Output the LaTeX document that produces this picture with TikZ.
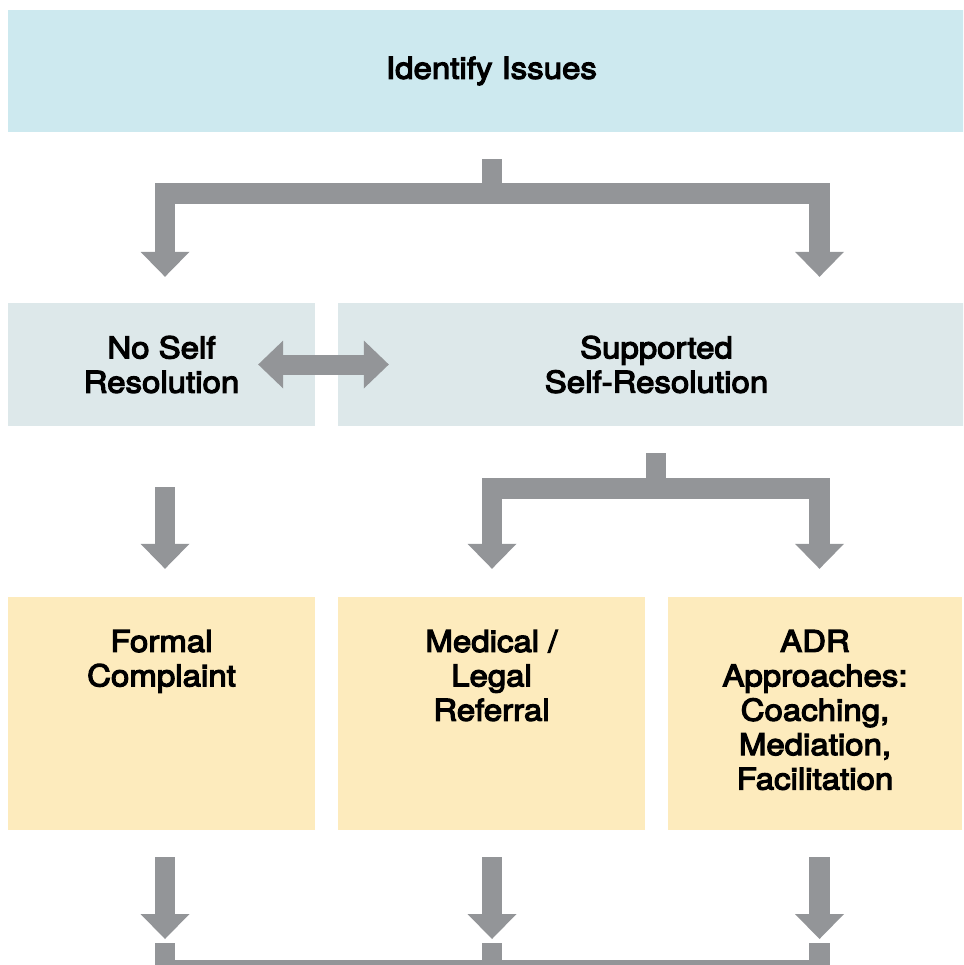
\documentclass[tikz,border=0pt]{standalone}
\usepackage{fontspec}
\newfontfamily\boxfont{TeX Gyre Heros}[FakeBold=4.0, FakeStretch=1.10]
\usetikzlibrary{arrows.meta}
\definecolor{issueBg}{HTML}{CDE9EF}
\definecolor{routeBg}{HTML}{DDE8EA}
\definecolor{outcomeBg}{HTML}{FDEBBD}
\definecolor{flowGray}{HTML}{939598}

\begin{document}
\begin{tikzpicture}[
    x=1pt, y=-1pt,
    every node/.style = {font=\boxfont\fontsize{30}{34.4}\selectfont, align=center, inner sep=0pt},
    issue/.style      = {fill=issueBg, minimum width=967pt, minimum height=122pt},
    route/.style      = {fill=routeBg, minimum height=123pt},
    outcome/.style    = {fill=outcomeBg, minimum height=233pt},
    flow/.style       = {draw=flowGray, line width=20.5pt},
    flowarrow/.style  = {flow, -{Triangle[length=25pt, width=49pt, line width=0pt]}},
    twoway/.style     = {draw=flowGray, line width=20pt,
                         {Triangle[length=25pt, width=48pt, line width=0pt]}-{Triangle[length=25pt, width=48pt, line width=0pt]}},
  ]

  %% Frame of the picture (boxes on the right run past the edge)
  \path[use as bounding box, clip] (0,0) rectangle (963,965);

  %% Column lines of the block arrows
  \coordinate (colA) at (165,0);
  \coordinate (colB) at (492,0);
  \coordinate (colC) at (819.5,0);
  \coordinate (colS) at (656,0);

  %% Row 1: issues
  \node[issue] (issues) at (491.5,71) {Identify Issues};

  %% Row 2: the two routes
  \node[route, minimum width=307pt] (noself)    at (161.5,364.5) {No Self\\Resolution};
  \node[route, minimum width=637pt] (supported) at (656.5,364.5) {Supported\\Self-Resolution};

  %% Row 3: outcomes (text sits at the top of each box)
  \node[outcome, minimum width=307pt] (formal)  at (161.5,713.5) {};
  \node[outcome, minimum width=307pt] (medical) at (491.5,713.5) {};
  \node[outcome, minimum width=294pt] (adr)     at (815,713.5)   {};
  \node[anchor=north] (formaltxt)  at ([yshift=-33pt]formal.north)  {Formal\\Complaint};
  \node[anchor=north] (medicaltxt) at ([yshift=-33pt]medical.north) {Medical /\\Legal\\Referral};
  \node[anchor=north] (adrtxt)     at ([yshift=-33pt]adr.north)     {ADR\\Approaches:\\Coaching,\\Mediation,\\Facilitation};

  %% Split and merge points
  \coordinate (splitTop) at (492,193.5);
  \coordinate (splitMid) at (656,488.5);
  \coordinate (merge)    at (492,970.5);

  %% Issues -> both routes
  \draw[flowarrow, shorten <=27pt, shorten >=26pt] (issues.south -| colB) -- (splitTop) -| (noself.north -| colA);
  \draw[flowarrow, shorten <=27pt, shorten >=26pt] (issues.south -| colB) -- (splitTop) -| (supported.north -| colC);

  %% Between the routes
  \draw[twoway] ([xshift=-57pt]noself.east) -- ([xshift=51pt]supported.west);

  %% Routes -> outcomes
  \draw[flowarrow, shorten <=61pt, shorten >=28pt] (noself.south -| colA) -- (formal.north -| colA);
  \draw[flowarrow, shorten <=27pt, shorten >=28pt] (supported.south -| colS) -- (splitMid) -| (medical.north -| colB);
  \draw[flowarrow, shorten <=27pt, shorten >=28pt] (supported.south -| colS) -- (splitMid) -| (adr.north -| colC);

  %% Outcomes -> merge bar at the bottom
  \foreach \outc/\col in {formal/colA, medical/colB, adr/colC}
    \draw[flowarrow, shorten <=27pt, shorten >=31.5pt] (\outc.south -| \col) -- (merge -| \col);
  \draw[flow, shorten <=113pt] (formal.south -| colA)  |- (merge);
  \draw[flow, shorten <=113pt] (medical.south -| colB) -- (merge);
  \draw[flow, shorten <=113pt] (adr.south -| colC)     |- (merge);

\end{tikzpicture}
\end{document}
